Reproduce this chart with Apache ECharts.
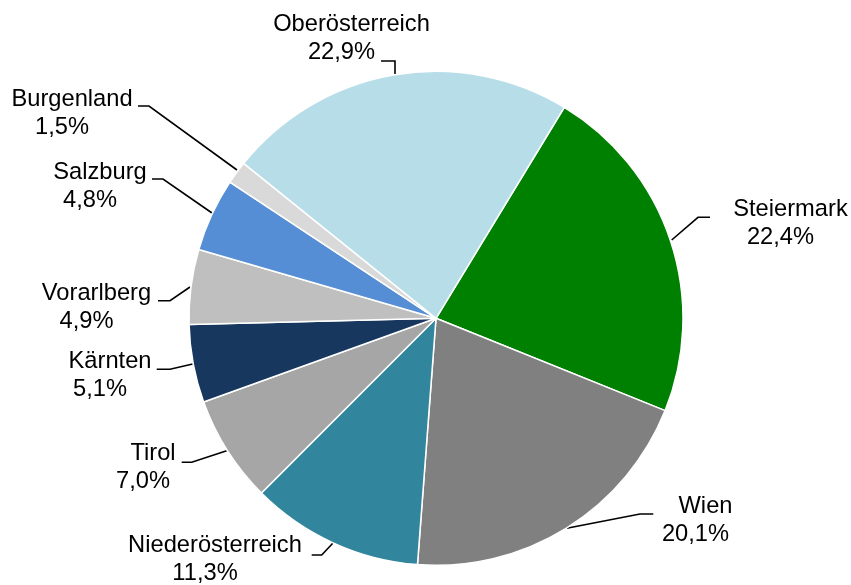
<!DOCTYPE html>
<html>
<head>
<meta charset="utf-8">
<script src="https://cdn.jsdelivr.net/npm/echarts@6/dist/echarts.min.js"></script>
<style>html,body{margin:0;padding:0;background:#fff;}#c{width:851px;height:585px;}</style>
</head>
<body>
<div id="c"></div>
<script>
// Data (clockwise from Steiermark)
const regions = ['Steiermark','Wien','Niederösterreich','Tirol','Kärnten','Vorarlberg','Salzburg','Burgenland','Oberösterreich'];
const shares = [22.4, 20.1, 11.3, 7.0, 5.1, 4.9, 4.8, 1.5, 22.9];

// Styling / layout (not data)
const colors = ['#008000','#808080','#31859C','#A6A6A6','#17375E','#BFBFBF','#558ED5','#D9D9D9','#B7DEE8'];
const labelPos = [
  [780.5,223],[695.5,520],[205,559.5],[143,467],[100,375.5],[86.5,307],[90,186],[62,113],[341.5,38]
];
const leaderPts = [
  [[671.7,240],[698,217.3],[710,217.3]],
  [[566.7,528.3],[640,514],[653.3,514]],
  [[333,543],[321.7,555],[311.7,555]],
  [[226.7,450.7],[191.7,462.3],[181.7,462.3]],
  [[192.7,364],[170,369.3],[156.7,369.3]],
  [[190,287],[170,300.7],[158,300.7]],
  [[212,213],[163,179],[152,179]],
  [[237,170],[149,106],[138,106]],
  [[395,74],[395,61],[381,61]]
];

const chart = echarts.init(document.getElementById('c'), null, {renderer:'canvas'});
const font = "'Liberation Sans', Arial, sans-serif";
chart.setOption({
  animation: false,
  backgroundColor: '#ffffff',
  series: [{
    type: 'pie',
    center: [436, 318.3],
    radius: [0, 247],
    startAngle: 58.7,
    clockwise: true,
    avoidLabelOverlap: false,
    silent: true,
    itemStyle: {borderColor:'#ffffff', borderWidth:1.5},
    data: regions.map((n,i)=>({name:n, value:shares[i], itemStyle:{color:colors[i]}})),
    label: {
      show: true,
      color: '#000',
      fontFamily: font,
      fontSize: 23.7,
      lineHeight: 28,
      formatter: p => '{a|' + p.name + '}\n{b|' + shares[p.dataIndex].toFixed(1).replace('.', ',') + '%}',
      rich: {
        a: {fontFamily: font, fontSize: 23.7, lineHeight: 28, color:'#000', align:'center', padding:[0,0,0,20]},
        b: {fontFamily: font, fontSize: 23.7, lineHeight: 28, color:'#000', align:'center'}
      }
    },
    labelLine: {show: true, length: 10, length2: 10, smooth: false, lineStyle: {color:'#000', width:1.6}},
    labelLayout: function (params) {
      const i = params.dataIndex;
      return {
        x: labelPos[i][0],
        y: labelPos[i][1],
        align: 'center',
        verticalAlign: 'middle',
        labelLinePoints: leaderPts[i]
      };
    }
  }]
});
</script>
</body>
</html>
